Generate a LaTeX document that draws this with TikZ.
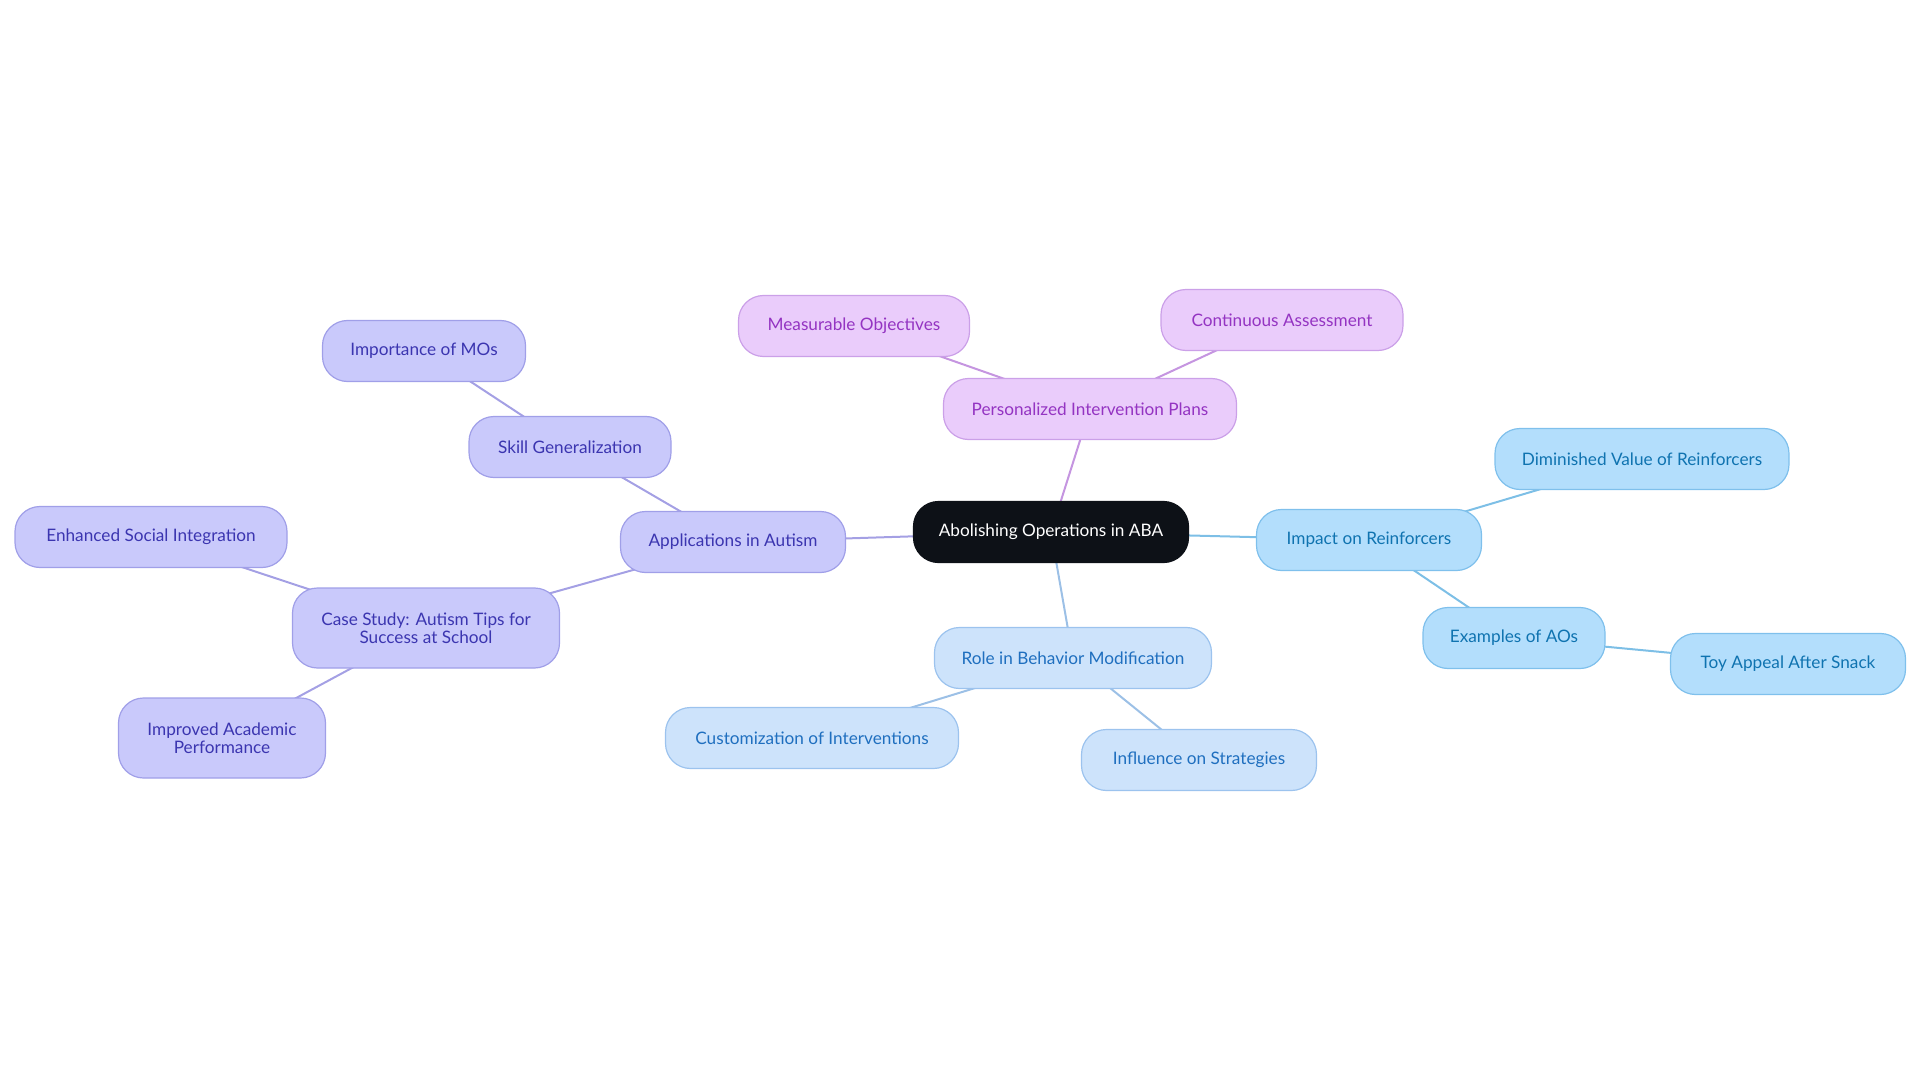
\documentclass[tikz,border=0pt]{standalone}
\usepackage{fontspec}
\setmainfont{Lato}
\usetikzlibrary{backgrounds}
\definecolor{rootfill}{HTML}{0D1117}
\definecolor{pfill}{HTML}{EACCFB}\definecolor{pdraw}{HTML}{CBA0E8}\definecolor{ptext}{HTML}{9434C2}\definecolor{pedge}{HTML}{C595E0}
\definecolor{lfill}{HTML}{C9C9FB}\definecolor{ldraw}{HTML}{A09FE8}\definecolor{ltext}{HTML}{3B35B0}\definecolor{ledge}{HTML}{A4A0E4}
\definecolor{bfill}{HTML}{CDE3FB}\definecolor{bdraw}{HTML}{9CC3EE}\definecolor{btext}{HTML}{1F6FBF}\definecolor{bedge}{HTML}{9CC0E6}
\definecolor{sfill}{HTML}{B3DEFC}\definecolor{sdraw}{HTML}{7FC0EC}\definecolor{stext}{HTML}{0F73B0}\definecolor{sedge}{HTML}{7DBFE6}
\tikzset{
  box/.style={rounded corners=25pt, minimum height=61pt, inner sep=0pt, align=center, line width=1.2pt, font=\fontsize{17.2}{17.5}\selectfont},
  rootbox/.style={box, fill=rootfill, draw=rootfill, text=white},
  pbox/.style={box, fill=pfill, draw=pdraw, text=ptext},
  lbox/.style={box, fill=lfill, draw=ldraw, text=ltext},
  bbox/.style={box, fill=bfill, draw=bdraw, text=btext},
  sbox/.style={box, fill=sfill, draw=sdraw, text=stext},
  link/.style={line width=2pt},
}
\begin{document}
\begin{tikzpicture}[x=1pt,y=-1pt]
\useasboundingbox (0,0) rectangle (1920,1083);
\node[rootbox, minimum width=275pt] (root) at (1051,532) {Abolishing Operations in ABA};
\node[pbox, minimum width=293pt] (pip) at (1090,409) {Personalized Intervention Plans};
\node[pbox, minimum width=231pt] (mo) at (854,326) {Measurable Objectives};
\node[pbox, minimum width=242pt] (ca) at (1282,320) {Continuous Assessment};
\node[sbox, minimum width=225pt] (ir) at (1369,540) {Impact on Reinforcers};
\node[sbox, minimum width=294pt] (dv) at (1642,459) {Diminished Value of Reinforcers};
\node[sbox, minimum width=182pt] (ex) at (1514,638) {Examples of AOs};
\node[sbox, minimum width=235pt] (toy) at (1788,664) {Toy Appeal After Snack};
\node[bbox, minimum width=277pt] (rbm) at (1073,658) {Role in Behavior Modification};
\node[bbox, minimum width=293pt] (ci) at (812,738) {Customization of Interventions};
\node[bbox, minimum width=235pt] (is) at (1199,760) {Influence on Strategies};
\node[lbox, minimum width=225pt] (aa) at (733,542) {Applications in Autism};
\node[lbox, minimum width=202pt] (sg) at (570,447) {Skill Generalization};
\node[lbox, minimum width=203pt] (imo) at (424,351) {Importance of MOs};
\node[lbox, minimum width=267pt, minimum height=80pt] (cs) at (426,628) {Case Study: Autism Tips for\\[1pt]Success at School};
\node[lbox, minimum width=272pt] (esi) at (151,537) {Enhanced Social Integration};
\node[lbox, minimum width=207pt, minimum height=80pt] (iap) at (222,738) {Improved Academic\\[1pt]Performance};
\begin{scope}[on background layer]
\draw[link, pedge] (root.center) -- (pip.center);
\draw[link, pedge] (pip.center) -- (mo.center);
\draw[link, pedge] (pip.center) -- (ca.center);
\draw[link, sedge] (root.center) -- (ir.center);
\draw[link, sedge] (ir.center) -- (dv.center);
\draw[link, sedge] (ir.center) -- (ex.center);
\draw[link, sedge] (ex.center) -- (toy.center);
\draw[link, bedge] (root.center) -- (rbm.center);
\draw[link, bedge] (rbm.center) -- (ci.center);
\draw[link, bedge] (rbm.center) -- (is.center);
\draw[link, ledge] (root.center) -- (aa.center);
\draw[link, ledge] (aa.center) -- (sg.center);
\draw[link, ledge] (sg.center) -- (imo.center);
\draw[link, ledge] (aa.center) -- (cs.center);
\draw[link, ledge] (cs.center) -- (esi.center);
\draw[link, ledge] (cs.center) -- (iap.center);
\end{scope}
\end{tikzpicture}
\end{document}
